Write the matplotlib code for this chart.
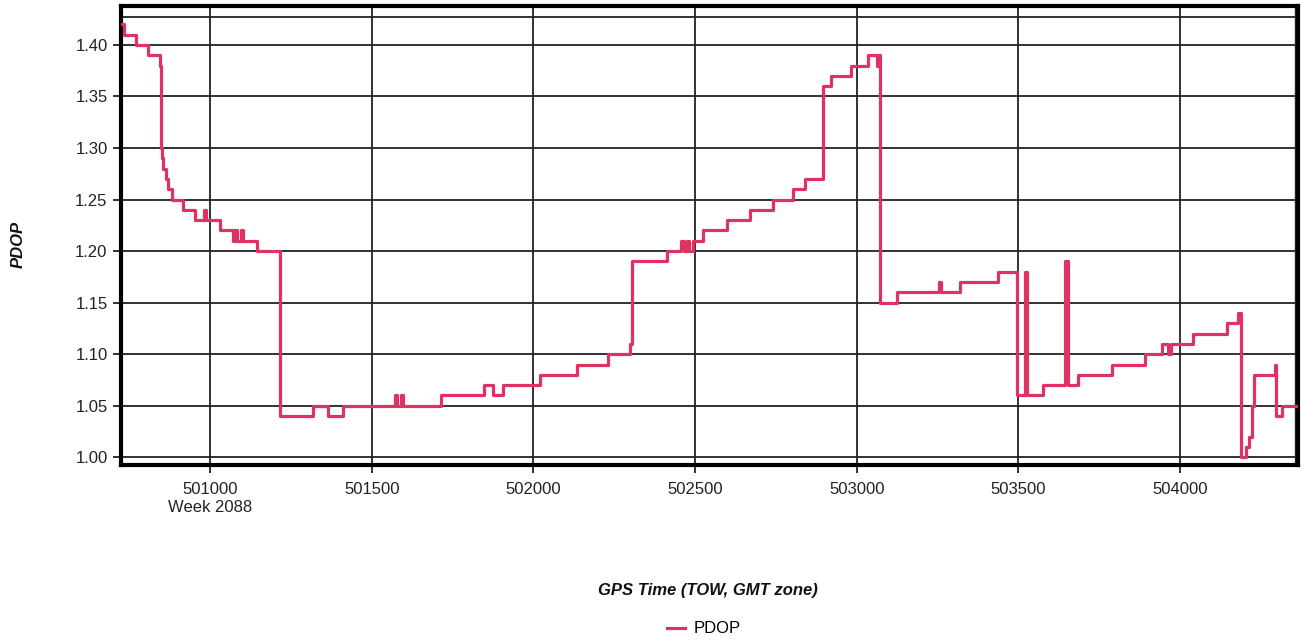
import matplotlib
matplotlib.use("Agg")
import matplotlib.pyplot as plt
from matplotlib.lines import Line2D

plt.rcParams['font.family'] = ['Liberation Sans', 'DejaVu Sans']

# step data: TOW where each level starts, and the PDOP level
tow = [500724, 500734, 500771, 500809, 500845, 500848, 500852, 500856, 500863, 500869,
       500882, 500917, 500954, 500981, 500988, 501031, 501071, 501077, 501083, 501096,
       501102, 501144, 501216, 501319, 501366, 501410, 501572, 501577, 501592, 501598,
       501714, 501847, 501875, 501906, 502020, 502135, 502231, 502298, 502305, 502413,
       502457, 502467, 502474, 502482, 502493, 502525, 502599, 502670, 502741, 502804,
       502840, 502896, 502922, 502984, 503035, 503062, 503066, 503072, 503125, 503255,
       503262, 503319, 503437, 503496, 503520, 503526, 503577, 503644, 503653, 503685,
       503791, 503893, 503943, 503962, 503973, 504040, 504144, 504180, 504190, 504205,
       504213, 504224, 504228, 504293, 504297, 504314, 504365]
pdop = [1.42, 1.41, 1.40, 1.39, 1.38, 1.30, 1.29, 1.28, 1.27, 1.26,
        1.25, 1.24, 1.23, 1.24, 1.23, 1.22, 1.21, 1.22, 1.21, 1.22,
        1.21, 1.20, 1.04, 1.05, 1.04, 1.05, 1.06, 1.05, 1.06, 1.05,
        1.06, 1.07, 1.06, 1.07, 1.08, 1.09, 1.10, 1.11, 1.19, 1.20,
        1.21, 1.20, 1.21, 1.20, 1.21, 1.22, 1.23, 1.24, 1.25, 1.26,
        1.27, 1.36, 1.37, 1.38, 1.39, 1.38, 1.39, 1.15, 1.16, 1.17,
        1.16, 1.17, 1.18, 1.06, 1.18, 1.06, 1.07, 1.19, 1.07, 1.08,
        1.09, 1.10, 1.11, 1.10, 1.11, 1.12, 1.13, 1.14, 1.00, 1.01,
        1.02, 1.05, 1.08, 1.09, 1.04, 1.05, 1.05]

xticks = [501000, 501500, 502000, 502500, 503000, 503500, 504000]
yticks = [1.00, 1.05, 1.10, 1.15, 1.20, 1.25, 1.30, 1.35, 1.40]
color = '#E03262'

fig = plt.figure(figsize=(13.01, 6.43), dpi=100)
ax = fig.add_axes([0.0928, 0.2768, 0.9977 - 0.0928, 0.9907 - 0.2768])

ax.plot(tow, pdop, drawstyle='steps-post', color=color, lw=2.3, zorder=3)

ax.set_xlim(500724, 504365)
ax.set_ylim(0.9925, 1.4378)
ax.set_xticks(xticks)
ax.set_xticklabels([f"{t}\nWeek 2088" if i == 0 else f"{t}" for i, t in enumerate(xticks)],
                   linespacing=1.3)
ax.set_yticks(yticks)
ax.set_yticklabels([f"{v:.2f}" for v in yticks])
ax.grid(True, color='#222222', lw=1.3, zorder=1)
ax.axhline(1.427, color='#222222', lw=1.3, zorder=1)
ax.axvline(504357, color='#222222', lw=1.0, zorder=1)
ax.tick_params(axis='both', labelsize=12, colors='#222222', length=6, width=1.3, labelcolor='#222222')
ax.tick_params(axis='x', pad=6)
for s in ax.spines.values():
    s.set_linewidth(3)
    s.set_color('black')

fig.text(0.0138, 0.62, 'PDOP', rotation=90, fontsize=12, fontweight='bold', fontstyle='italic',
         ha='center', va='center', color='#111111')
fig.text(0.544, 0.082, 'GPS Time (TOW, GMT zone)', fontsize=12, fontweight='bold', fontstyle='italic',
         ha='center', va='center', color='#111111')

h = [Line2D([], [], color=color, lw=2.3)]
fig.legend(h, ['PDOP'], loc='center', bbox_to_anchor=(0.541, 0.022), frameon=False,
           fontsize=12, handlelength=1.1, handletextpad=0.5)

fig.savefig('out.png', dpi=100)
